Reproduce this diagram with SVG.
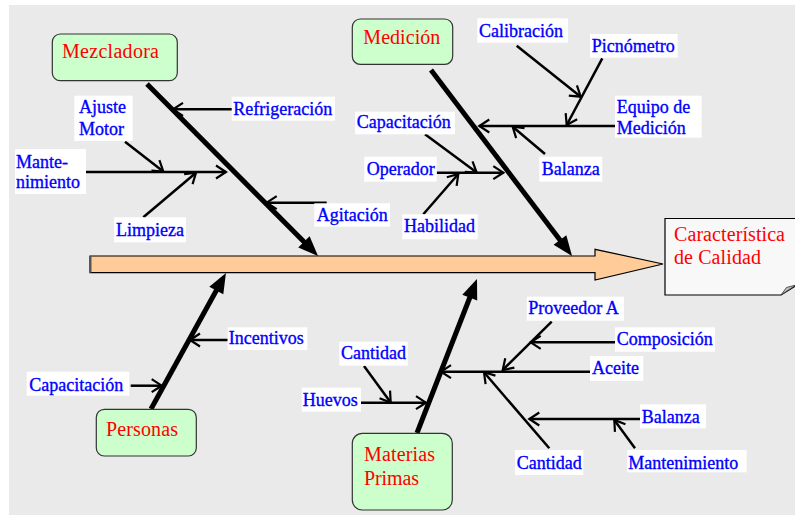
<svg xmlns="http://www.w3.org/2000/svg" width="795" height="515" viewBox="0 0 795 515">
<style>
.node{fill:#ccffcc;stroke:#333;stroke-width:1.2}
.nt{font-family:"Liberation Serif","Times New Roman",serif;font-size:20px;fill:#ff0000}
.lb{fill:#ffffff}
.lt{font-family:"Liberation Serif","Times New Roman",serif;font-size:18px;fill:#0000ff;stroke:#0000ff;stroke-width:0.35}
.bone{stroke:#000;stroke-width:5;fill:none}
.rib{stroke:#000;stroke-width:2.5;fill:none}
</style>
<defs>
<marker id="solid" viewBox="-14 -10 24 20" markerWidth="24" markerHeight="20" refX="0" refY="0" orient="auto" markerUnits="userSpaceOnUse">
<path d="M8,0 L-12,-8 L-12,8 Z" fill="#000"/>
</marker>
<marker id="open" viewBox="-13 -9 15 18" markerWidth="15" markerHeight="18" refX="0" refY="0" orient="auto" markerUnits="userSpaceOnUse">
<path d="M-10,-6.5 L0,0 L-10,6.5" fill="none" stroke="#000" stroke-width="2.2"/>
</marker>
</defs>
<rect x="9" y="5" width="786" height="510" fill="#eaeaea"/>

<g id="spine">
<path d="M90,256 H595 V249.3 L663,264 L595,280 V272.7 H90 Z" fill="#ffcc99" stroke="#000" stroke-width="1.2"/>
<line x1="90.5" y1="256" x2="90.5" y2="272.7" stroke="#555" stroke-width="2"/>
</g>

<g id="caracteristica">
<path d="M665,218.5 H797 V285 L781,295 H665 Z" fill="#f8f8f8" stroke="#000" stroke-width="1.2"/>
<path d="M781,295 L786.5,287.5 L796,285 Z" fill="#c0c0c0" stroke="#333" stroke-width="0.8"/>
<text class="nt" x="674" y="241" textLength="111" lengthAdjust="spacing">Característica</text>
<text class="nt" x="674" y="264" textLength="87" lengthAdjust="spacing">de Calidad</text>
</g>

<g id="connectors">
<line class="bone" x1="147" y1="84" x2="312.4" y2="250.3" marker-end="url(#solid)"/>
<line class="bone" x1="431" y1="70" x2="567.2" y2="249.6" marker-end="url(#solid)"/>
<line class="bone" x1="151" y1="409" x2="222.1" y2="280" marker-end="url(#solid)"/>
<line class="bone" x1="417" y1="433" x2="474.1" y2="286.5" marker-end="url(#solid)"/>

<line class="rib" x1="232" y1="109.3" x2="173" y2="109.3" marker-end="url(#open)"/>
<line class="rib" x1="86" y1="172" x2="226" y2="172" marker-end="url(#open)"/>
<line class="rib" x1="125" y1="141.7" x2="163.3" y2="171.5" marker-end="url(#open)"/>
<line class="rib" x1="143.3" y1="217.3" x2="196" y2="172.7" marker-end="url(#open)"/>
<line class="rib" x1="326.7" y1="202.7" x2="266.7" y2="202.7" marker-end="url(#open)"/>

<line class="rib" x1="615" y1="126" x2="479.3" y2="126" marker-end="url(#open)"/>
<line class="rib" x1="516.7" y1="45.7" x2="580.7" y2="96.7" marker-end="url(#open)"/>
<line class="rib" x1="602.3" y1="58.3" x2="566.7" y2="125" marker-end="url(#open)"/>
<line class="rib" x1="545" y1="154" x2="512.7" y2="126.7" marker-end="url(#open)"/>
<line class="rib" x1="436.7" y1="172.7" x2="503.3" y2="172.7" marker-end="url(#open)"/>
<line class="rib" x1="425" y1="134.3" x2="476.7" y2="172.5" marker-end="url(#open)"/>
<line class="rib" x1="423.3" y1="214.3" x2="458.3" y2="174" marker-end="url(#open)"/>

<line class="rib" x1="227.7" y1="340" x2="190" y2="340" marker-end="url(#open)"/>
<line class="rib" x1="130.7" y1="385.7" x2="161.7" y2="385.7" marker-end="url(#open)"/>

<line class="rib" x1="364" y1="366" x2="390.7" y2="402.5" marker-end="url(#open)"/>
<line class="rib" x1="361" y1="402.7" x2="426" y2="402.7" marker-end="url(#open)"/>
<line class="rib" x1="590" y1="371.7" x2="441" y2="371.7" marker-end="url(#open)"/>
<line class="rib" x1="551.7" y1="321.7" x2="502.7" y2="370" marker-end="url(#open)"/>
<line class="rib" x1="615" y1="342.3" x2="530.7" y2="342.3" marker-end="url(#open)"/>
<line class="rib" x1="549.3" y1="448.3" x2="484" y2="372.3" marker-end="url(#open)"/>
<line class="rib" x1="640" y1="419" x2="529.3" y2="419" marker-end="url(#open)"/>
<line class="rib" x1="635" y1="448.3" x2="614.3" y2="420" marker-end="url(#open)"/>
</g>

<g id="mezcladora">
<rect class="node" x="52.3" y="34" width="125" height="46.7" rx="8"/>
<text class="nt" x="62" y="58" textLength="97" lengthAdjust="spacing">Mezcladora</text>
</g>
<g id="medicion">
<rect class="node" x="352.3" y="19" width="100.4" height="45.3" rx="8"/>
<text class="nt" x="363.3" y="43.7" textLength="77" lengthAdjust="spacing">Medición</text>
</g>
<g id="personas">
<rect class="node" x="96.3" y="409.3" width="100" height="46.7" rx="8"/>
<text class="nt" x="106" y="436" textLength="72" lengthAdjust="spacing">Personas</text>
</g>
<g id="materias-primas">
<rect class="node" x="352.3" y="433.3" width="100" height="76.7" rx="10"/>
<text class="nt" x="364" y="460.7" textLength="71" lengthAdjust="spacing">Materias</text>
<text class="nt" x="364" y="485" textLength="55" lengthAdjust="spacing">Primas</text>
</g>

<g id="lbl-ajuste-motor"><rect class="lb" x="74.3" y="95.7" width="58.4" height="45.3"/><text class="lt" x="79" y="113">Ajuste</text><text class="lt" x="79" y="135">Motor</text></g>
<g id="lbl-mantenimiento1"><rect class="lb" x="15" y="149" width="71" height="45"/><text class="lt" x="16" y="167.7">Mante-</text><text class="lt" x="16" y="188.3">nimiento</text></g>
<g id="lbl-refrigeracion"><rect class="lb" x="231.7" y="96.7" width="103.3" height="24"/><text class="lt" x="233.3" y="115">Refrigeración</text></g>
<g id="lbl-agitacion"><rect class="lb" x="314.3" y="203.3" width="75.7" height="23.4"/><text class="lt" x="316.7" y="220.7">Agitación</text></g>
<g id="lbl-limpieza"><rect class="lb" x="114" y="217.3" width="72" height="25"/><text class="lt" x="116" y="235.7">Limpieza</text></g>

<g id="lbl-calibracion"><rect class="lb" x="477.3" y="18.3" width="90.7" height="24.4"/><text class="lt" x="479" y="36.7">Calibración</text></g>
<g id="lbl-picnometro"><rect class="lb" x="590" y="34" width="87.7" height="23.7"/><text class="lt" x="591.7" y="51.7">Picnómetro</text></g>
<g id="lbl-equipo"><rect class="lb" x="615" y="95.7" width="86.7" height="42"/><text class="lt" x="616.7" y="113.3">Equipo de</text><text class="lt" x="616.7" y="134.3">Medición</text></g>
<g id="lbl-capacitacion1"><rect class="lb" x="355" y="111.7" width="100" height="22.6"/><text class="lt" x="356.7" y="127.7">Capacitación</text></g>
<g id="lbl-operador"><rect class="lb" x="364.3" y="156.7" width="72.4" height="25"/><text class="lt" x="366.7" y="175">Operador</text></g>
<g id="lbl-balanza1"><rect class="lb" x="539.3" y="156.7" width="63" height="25"/><text class="lt" x="541.7" y="175">Balanza</text></g>
<g id="lbl-habilidad"><rect class="lb" x="402.3" y="214.3" width="75.4" height="25"/><text class="lt" x="404" y="232.3">Habilidad</text></g>

<g id="lbl-incentivos"><rect class="lb" x="227.7" y="327.3" width="79.6" height="22.7"/><text class="lt" x="228.7" y="344">Incentivos</text></g>
<g id="lbl-capacitacion2"><rect class="lb" x="26.7" y="371.7" width="102.6" height="24"/><text class="lt" x="29.3" y="390.7">Capacitación</text></g>

<g id="lbl-cantidad1"><rect class="lb" x="339.3" y="341.7" width="68.4" height="24"/><text class="lt" x="341" y="359.3">Cantidad</text></g>
<g id="lbl-huevos"><rect class="lb" x="301.7" y="387.7" width="59.3" height="24"/><text class="lt" x="302.7" y="405.7">Huevos</text></g>
<g id="lbl-proveedor"><rect class="lb" x="526.7" y="296.7" width="97.3" height="24"/><text class="lt" x="528.3" y="314">Proveedor A</text></g>
<g id="lbl-composicion"><rect class="lb" x="615" y="327.3" width="100" height="24.4"/><text class="lt" x="616.7" y="345">Composición</text></g>
<g id="lbl-aceite"><rect class="lb" x="590" y="356" width="53.3" height="25"/><text class="lt" x="592" y="374">Aceite</text></g>
<g id="lbl-balanza2"><rect class="lb" x="640" y="404.3" width="66" height="24"/><text class="lt" x="641.7" y="422.7">Balanza</text></g>
<g id="lbl-cantidad2"><rect class="lb" x="515" y="450" width="68.3" height="25"/><text class="lt" x="516.7" y="469">Cantidad</text></g>
<g id="lbl-mantenimiento2"><rect class="lb" x="627.3" y="450" width="119.4" height="22.3"/><text class="lt" x="628.3" y="469">Mantenimiento</text></g>
</svg>
